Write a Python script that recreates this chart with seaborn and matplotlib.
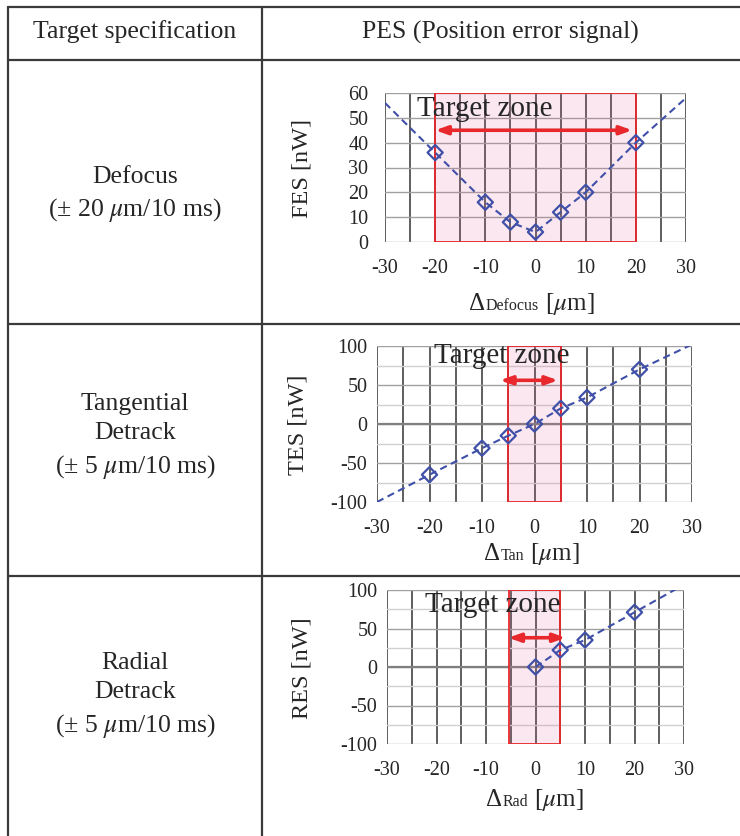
import matplotlib
matplotlib.use('Agg')
import matplotlib.pyplot as plt
import seaborn as sns
from matplotlib.lines import Line2D
from matplotlib.offsetbox import TextArea, HPacker, AnnotationBbox
from matplotlib.ticker import MultipleLocator

# ---------------- data ----------------
defocus_x = [-20, -10, -5, 0, 5, 10, 20]
defocus_fes = [36, 16, 8, 4, 12, 20, 40]
defocus_fit_x = [-30, -20, -10, -5, 0, 5, 10, 20, 30]
defocus_fit_y = [56, 36, 16, 8, 4, 12, 20, 40, 58]

tan_x = [-20, -10, -5, 0, 5, 10, 20]
tan_tes = [-65, -31, -15, 0, 20, 34, 70]
tan_fit_x = [-30, -20, -10, -5, 0, 5, 10, 20, 30]
tan_fit_y = [-100, -65, -31, -15, 0, 20, 34, 70, 102]

rad_x = [0, 5, 10, 20]
rad_res = [0, 22, 35, 71]
rad_fit_x = [0, 5, 10, 20, 30]
rad_fit_y = [0, 22, 35, 71, 107]

spec_labels = ["Defocus\n(± 20 $\\mu$m/10 ms)",
               "Tangential\nDetrack\n(± 5 $\\mu$m/10 ms)",
               "Radial\nDetrack\n(± 5 $\\mu$m/10 ms)"]
header_labels = ["Target specification", "PES (Position error signal)"]
y_labels = ["FES [nW]", "TES [nW]", "RES [nW]"]
x_subs = ["Defocus", "Tan", "Rad"]
zone_text = "Target zone"

# ---------------- style ----------------
sns.set_style("white")
plt.rcParams['font.family'] = ['Liberation Serif', 'DejaVu Serif']
plt.rcParams['mathtext.fontset'] = 'stix'
plt.rcParams['axes.unicode_minus'] = False

W, H = 740, 836
fig = plt.figure(figsize=(W / 100, H / 100), dpi=100)

def fx(px):
    return px / W

def fy(py):
    return 1 - py / H

TABLE = '#3a3a3a'
def hline(y, x0=8, x1=740):
    fig.add_artist(Line2D([fx(x0), fx(x1)], [fy(y), fy(y)], color=TABLE, lw=1.6,
                          transform=fig.transFigure))

def vline(x, y0=7, y1=836):
    fig.add_artist(Line2D([fx(x), fx(x)], [fy(y0), fy(y1)], color=TABLE, lw=1.6,
                          transform=fig.transFigure))

for y in (7, 60, 324, 576):
    hline(y)
vline(8)
vline(262)

fig.text(fx(135), fy(32), header_labels[0], ha='center', va='center', fontsize=18.5)
fig.text(fx(500), fy(32), header_labels[1], ha='center', va='center', fontsize=18.5)

for lab, cy in zip(spec_labels, (195, 437, 696)):
    fig.text(fx(135), fy(cy), lab, ha='center', va='center', fontsize=18.5,
             linespacing=1.42, multialignment='center')

BLUE = '#4050a8'
RED = '#e8282c'
PINK = (0.88, 0.38, 0.60, 0.15)

panels = [
    dict(rect=(385, 93, 686, 242), ylim=(0, 60), ymaj=10, ymin=None,
         px=defocus_x, py=defocus_fes, lx=defocus_fit_x, ly=defocus_fit_y,
         zone=(-20, 20), arrow=(-20, 19.3, 45), text=(-23.6, 53.5),
         ypad=12, ylab=(302, 168), xlab=(532, 304)),
    dict(rect=(377, 346, 692, 502), ylim=(-100, 100), ymaj=50, ymin=25,
         px=tan_x, py=tan_tes, lx=tan_fit_x, ly=tan_fit_y,
         zone=(-5, 5), arrow=(-6.6, 4.5, 56), text=(-19.1, 87),
         ypad=7, ylab=(298, 425), xlab=(532, 554)),
    dict(rect=(387, 590, 684, 744), ylim=(-100, 100), ymaj=50, ymin=25,
         px=rad_x, py=rad_res, lx=rad_fit_x, ly=rad_fit_y,
         zone=(-5.4, 5), arrow=(-5.5, 6.1, 38), text=(-22.4, 80),
         ypad=7, ylab=(302, 668), xlab=(535, 800)),
]

for i, p in enumerate(panels):
    l, t, r, b = p['rect']
    ax = fig.add_axes([fx(l), fy(b), fx(r) - fx(l), fy(t) - fy(b)])
    ax.set_xlim(-30, 30)
    ax.set_ylim(*p['ylim'])
    ax.xaxis.set_major_locator(MultipleLocator(10))
    ax.xaxis.set_minor_locator(MultipleLocator(5))
    ax.yaxis.set_major_locator(MultipleLocator(p['ymaj']))
    if p['ymin']:
        ax.yaxis.set_minor_locator(MultipleLocator(p['ymin']))
        ax.grid(True, which='minor', axis='y', color='#d0d0d0', lw=1.0)
    ax.grid(True, which='both', axis='x', color='#333333', lw=1.1)
    ax.grid(True, which='major', axis='y', color='#a0a0a0', lw=1.0)
    if p['ylim'][0] < 0:
        ax.axhline(0, color='#808080', lw=1.6, zorder=1.2)
    ax.set_axisbelow(True)
    for s in ax.spines.values():
        s.set_visible(False)
    ax.tick_params(which='both', length=0)
    ax.tick_params(axis='x', labelsize=14.5, pad=12)
    ax.tick_params(axis='y', labelsize=14.5, pad=p['ypad'])

    ax.axvspan(p['zone'][0], p['zone'][1], facecolor=PINK, edgecolor=RED, lw=1.3, zorder=1.5)

    sns.lineplot(x=p['lx'], y=p['ly'], ax=ax, color=BLUE, lw=1.5, linestyle=(0, (3.5, 2.2)),
                 zorder=3)
    sns.scatterplot(x=p['px'], y=p['py'], ax=ax, marker='D', s=60, facecolor='none',
                    edgecolor=BLUE, linewidth=1.6, zorder=4)

    x0, x1, ya = p['arrow']
    ax.annotate('', xy=(x1, ya), xytext=(x0, ya),
                arrowprops=dict(arrowstyle='<|-|>,head_length=0.7,head_width=0.25',
                                color=RED, lw=2.6, shrinkA=0, shrinkB=0), zorder=5)
    ax.text(p['text'][0], p['text'][1], zone_text, ha='left', va='center', fontsize=21,
            zorder=6)
    ax.set_xlabel('')
    ax.set_ylabel('')

    fig.text(fx(p['ylab'][0]), fy(p['ylab'][1]), y_labels[i], rotation=90,
             ha='center', va='center', fontsize=17.5)

    box = HPacker(children=[TextArea('Δ', textprops=dict(fontsize=18)),
                            TextArea(x_subs[i], textprops=dict(fontsize=11.5)),
                            TextArea(' [$\\mu$m]', textprops=dict(fontsize=18))],
                  align='baseline', pad=0, sep=0)
    ab = AnnotationBbox(box, (p['xlab'][0], H - p['xlab'][1]), xycoords='figure pixels',
                        frameon=False, box_alignment=(0.5, 0.5), pad=0)
    fig.add_artist(ab)

fig.savefig('out.png', dpi=100)
